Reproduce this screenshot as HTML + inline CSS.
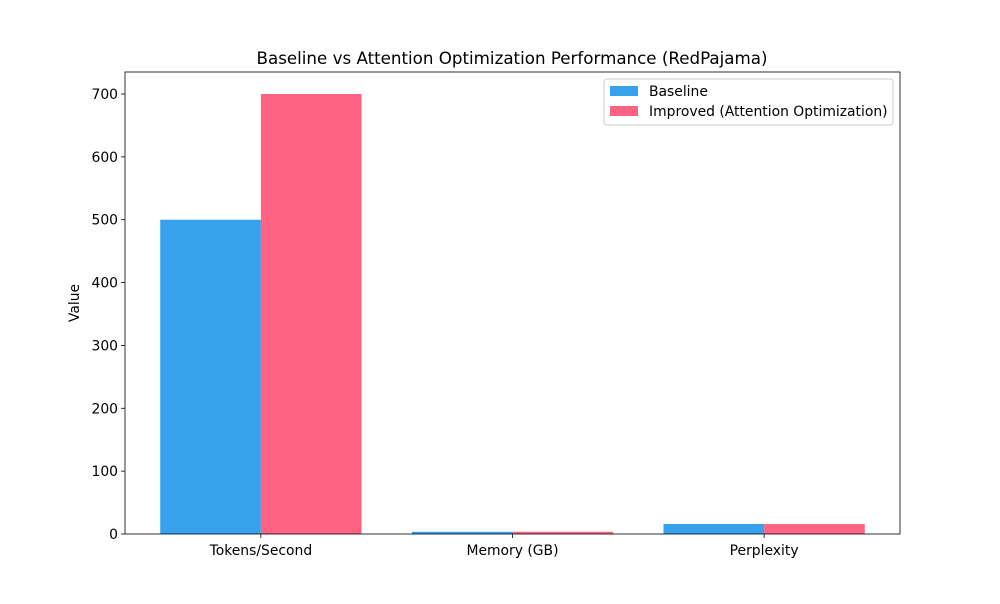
<!DOCTYPE html>
<html><head><meta charset="utf-8"><style>
body{margin:0;background:#fff;font-family:"DejaVu Sans","Liberation Sans",sans-serif}
svg text{font-family:"DejaVu Sans","Liberation Sans",sans-serif}
</style></head><body>
<svg id="c" width="1000" height="600" xmlns="http://www.w3.org/2000/svg"></svg>
<script>
const categories=["Tokens/Second","Memory (GB)","Perplexity"];
const baseline=[500,3.5,16];
const improved=[700,3.5,15.8];
const yTicks=[0,100,200,300,400,500,600,700];
const NS="http://www.w3.org/2000/svg";
const svg=document.getElementById('c');
const L=125,R=900,T=72,B=534,xmin=-0.54,xmax=2.54,ymax=735;
const xs=v=>L+(v-xmin)/(xmax-xmin)*(R-L);
const ys=v=>B-v/ymax*(B-T);
function el(t,a,txt){const e=document.createElementNS(NS,t);for(const k in a)e.setAttribute(k,a[k]);if(txt!==undefined)e.textContent=txt;svg.appendChild(e);return e;}
categories.forEach((c,i)=>{
 const b=el('rect',{x:xs(i-0.4),y:ys(baseline[i]),width:xs(i)-xs(i-0.4),height:B-ys(baseline[i]),fill:'#36a2eb'});
 
 
 const m=el('rect',{x:xs(i),y:ys(improved[i]),width:xs(i+0.4)-xs(i),height:B-ys(improved[i]),fill:'#ff6384'});
 
 
 el('line',{x1:xs(i),x2:xs(i),y1:B,y2:B+4,stroke:'#000','stroke-width':0.8});
 const t=el('text',{x:xs(i),y:B+21,'text-anchor':'middle','font-size':13.9},c);
 
 
});
yTicks.forEach(v=>{
 el('line',{x1:L-4,x2:L,y1:ys(v),y2:ys(v),stroke:'#000','stroke-width':0.8});
 const t=el('text',{x:L-7,y:ys(v)+5,'text-anchor':'end','font-size':13.9},v);
 
 
});
el('rect',{x:L,y:T,width:R-L,height:B-T,fill:'none',stroke:'#000','stroke-width':0.8});
const yt=el('text',{x:79,y:303,'text-anchor':'middle','font-size':13.9,transform:'rotate(-90 79 303)'},'Value');

const tt=el('text',{x:512,y:64,'text-anchor':'middle','font-size':16.7},'Baseline vs Attention Optimization Performance (RedPajama)');

const lg=el('rect',{x:604,y:79,width:289,height:46,fill:'#fff',stroke:'#ccc',rx:3});

el('rect',{x:610,y:86,width:28,height:10,fill:'#36a2eb'});
const l1=el('text',{x:649,y:96,'font-size':13.9},'Baseline');

el('rect',{x:610,y:106,width:28,height:10,fill:'#ff6384'});
const l2=el('text',{x:649,y:116,'font-size':13.9},'Improved (Attention Optimization)');

</script>
</body></html>
